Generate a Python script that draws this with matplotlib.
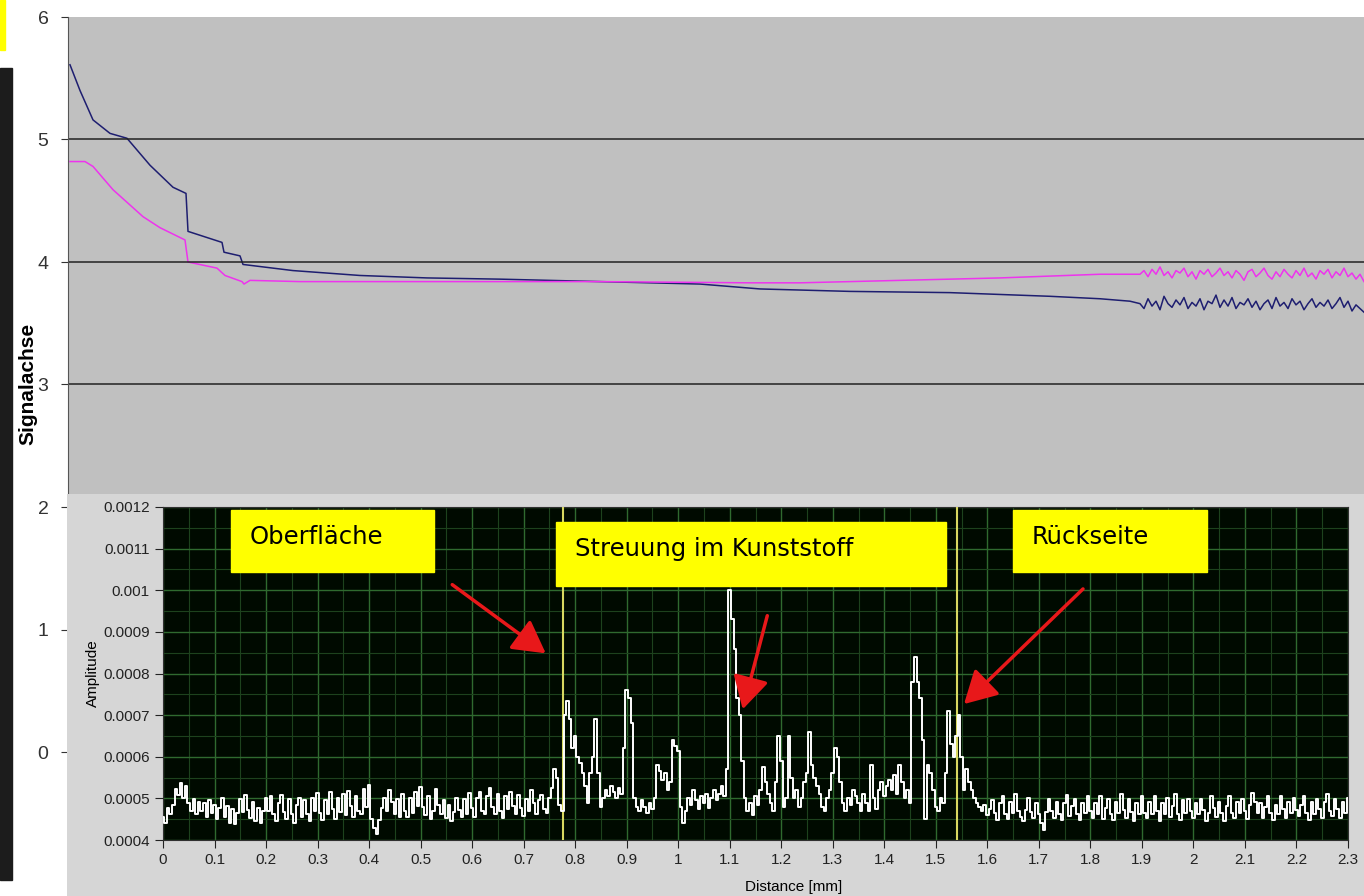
import numpy as np
import matplotlib.pyplot as plt
from matplotlib.patches import Rectangle, FancyArrowPatch
from matplotlib.ticker import MultipleLocator, FuncFormatter

# ---- obere Kurven (Excel-Diagramm) ----
navy_x = [2, 12, 25, 42, 59, 82, 105, 118, 120, 154, 156, 172, 175, 225, 292, 359,
          432, 532, 632, 692, 782, 882, 982, 1032, 1062]
navy_y = [5.61, 5.40, 5.16, 5.05, 5.01, 4.79, 4.61, 4.56, 4.25, 4.16, 4.08, 4.05, 3.98,
          3.93, 3.89, 3.87, 3.86, 3.84, 3.82, 3.78, 3.76, 3.75, 3.72, 3.70, 3.68]
navy_noise = [3.66, 3.62, 3.70, 3.64, 3.68, 3.61, 3.72, 3.66, 3.63, 3.69, 3.65, 3.71,
              3.62, 3.67, 3.64, 3.70, 3.61, 3.68, 3.66, 3.73, 3.63, 3.69, 3.64, 3.71,
              3.62, 3.67, 3.65, 3.70, 3.63, 3.68, 3.61, 3.66, 3.69, 3.62, 3.71, 3.64,
              3.67, 3.62, 3.70, 3.65, 3.68, 3.61, 3.66, 3.70, 3.63, 3.67, 3.64, 3.69,
              3.62, 3.66, 3.71, 3.63, 3.68, 3.60, 3.65, 3.62, 3.59]

magenta_x = [2, 17, 25, 45, 75, 92, 117, 120, 149, 157, 174, 176, 182, 232, 332, 532,
             682, 732, 832, 932, 1032, 1062]
magenta_y = [4.82, 4.82, 4.78, 4.59, 4.37, 4.28, 4.18, 4.00, 3.95, 3.89, 3.84, 3.82,
             3.85, 3.84, 3.84, 3.84, 3.83, 3.83, 3.85, 3.87, 3.90, 3.90]
magenta_noise = [3.90, 3.93, 3.88, 3.94, 3.90, 3.96, 3.89, 3.92, 3.87, 3.93, 3.91, 3.95,
                 3.88, 3.92, 3.86, 3.93, 3.90, 3.94, 3.88, 3.91, 3.95, 3.89, 3.92, 3.87,
                 3.93, 3.90, 3.85, 3.92, 3.94, 3.88, 3.91, 3.95, 3.89, 3.86, 3.92, 3.88,
                 3.94, 3.90, 3.87, 3.93, 3.89, 3.95, 3.88, 3.91, 3.86, 3.93, 3.90, 3.94,
                 3.87, 3.92, 3.89, 3.95, 3.88, 3.91, 3.86, 3.90, 3.84]

# ---- Ultraschall-A-Bild (LabVIEW), Amplitude in 1e-6, Schritt 0.005 mm ----
amp_e6 = [
    455, 440, 478, 462, 485, 522, 508, 538, 500, 530, 488, 470, 498, 462, 492, 470, 488, 455, 495, 465, 485,
    450, 478, 500, 455, 482, 440, 475, 438, 465, 498, 468, 508, 472, 452, 492, 445, 478, 440, 470, 500,
    470, 505, 462, 445, 490, 508, 468, 450, 498, 462, 442, 485, 502, 455, 495, 462, 446, 500, 470, 512,
    465, 448, 495, 462, 515, 475, 450, 502, 468, 510, 460, 518, 482, 455, 505, 470, 462, 522, 480, 532,
    450, 428, 415, 448, 478, 500, 470, 520, 492, 462, 498, 455, 510, 470, 455, 500, 465, 515, 482, 528,
    480, 460, 505, 450, 470, 522, 485, 462, 495, 452, 485, 445, 468, 502, 472, 455, 498, 462, 512, 478,
    455, 500, 515, 470, 462, 505, 525, 480, 462, 510, 470, 452, 505, 475, 515, 482, 462, 508, 478, 458,
    498, 470, 520, 488, 462, 495, 508, 475, 465, 500, 525, 570, 548, 485, 470,
    700, 735, 690, 620, 650, 600,
    585, 560, 530, 490, 560, 600, 690, 560, 480, 500,
    520, 505, 530, 515, 500, 525, 510, 620, 760, 740,
    680, 500, 480, 470, 495, 480, 465, 490, 475, 500,
    580, 565, 545, 560, 520, 540, 640, 625, 615, 480,
    440, 470, 500, 485, 520, 495, 475, 505, 490, 510,
    478, 500, 520, 495, 510, 530, 505, 570, 1000, 930,
    860, 740, 700, 590, 500, 470, 490, 460, 505, 485,
    520, 575, 540, 510, 490, 470, 540, 650, 590, 480,
    500, 650, 550, 500, 520, 480, 500, 540, 560, 660,
    580, 550, 530, 510, 480, 470, 500, 520, 560, 620,
    600, 540, 490, 470, 500, 485, 520, 505, 490, 470,
    510, 490, 470, 580, 500, 475, 520, 540, 505, 530,
    545, 520, 555, 510, 580, 540, 500, 520, 490, 780,
    840, 780, 740, 640, 450, 580, 560, 520, 480, 470,
    500, 490, 560, 710, 630, 600, 650, 700, 600, 520,
    570, 540, 520, 500, 490, 480, 470, 485, 460, 475,
    495, 465, 448, 488, 505, 462, 450, 492, 465, 510, 470, 455, 445, 472, 500, 468, 452, 488, 462, 440,
    425, 468, 498, 470, 452, 492, 462, 448, 488, 508, 458, 482, 498, 462, 448, 490, 465, 505, 470, 452,
    488, 462, 505, 450, 478, 498, 462, 448, 492, 465, 510, 472, 452, 498, 468, 445, 490, 462, 505, 465,
    452, 492, 462, 505, 470, 445, 488, 462, 500, 455, 482, 510, 462, 448, 495, 465, 498, 470, 452, 488,
    462, 498, 472, 445, 465, 505, 478, 455, 492, 465, 445, 482, 505, 465, 452, 492, 465, 498, 470, 450,
    485, 512, 492, 465, 490, 452, 480, 505, 465, 448, 485, 462, 505, 475, 452, 492, 465, 500, 472, 458,
    485, 505, 465, 448, 492, 462, 498, 475, 452, 492, 510, 470, 458, 498, 475, 452, 492, 465, 500, 482,
]
cursors = [0.776, 1.542]
labels = ["Oberfläche", "Streuung im Kunststoff", "Rückseite"]

W, H = 1364, 896


def fx(x):
    return x / W


def fy(y):
    return 1 - y / H


plt.rcParams['font.family'] = ['Liberation Sans', 'DejaVu Sans']
fig = plt.figure(figsize=(W / 100, H / 100), dpi=100)
fig.patch.set_facecolor('white')

# Hintergrund links
fig.patches.append(Rectangle((0, fy(880)), fx(12), fy(68) - fy(880), transform=fig.transFigure,
                             color='#1c1c1c', zorder=0))
fig.patches.append(Rectangle((0, fy(50)), fx(5), fy(0) - fy(50), transform=fig.transFigure,
                             color='#ffff00', zorder=0))

# ---- oberes Diagramm ----
ax = fig.add_axes([fx(68), 0, 1 - fx(68), fy(17)])
ax.set_facecolor('#c0c0c0')
nx = np.linspace(1072, 1296, len(navy_noise))
ax.plot(np.concatenate([navy_x, nx]), np.concatenate([navy_y, navy_noise]), color='#1e1e70', lw=1.1)
mx = np.linspace(1072, 1296, len(magenta_noise))
ax.plot(np.concatenate([magenta_x, mx]), np.concatenate([magenta_y, magenta_noise]), color='#ee33ee', lw=1.1)
ax.set_xlim(0, 1296)
ax.set_ylim(6 - 879 / 122.5, 6)
ax.set_yticks(range(0, 7))
for v in range(0, 6):
    ax.axhline(v, color='#222222', lw=1.1)
ax.set_xticks([])
for s in ['top', 'right', 'bottom']:
    ax.spines[s].set_visible(False)
ax.spines['left'].set_color('#555555')
ax.tick_params(axis='y', direction='out', length=5, pad=9, labelsize=14, colors='#333333')
ax.set_ylabel('Signalachse', fontsize=15, fontweight='bold')
ax.yaxis.set_label_coords(-0.0235, 0.582)

# ---- LabVIEW-Fenster ----
panel = fig.add_axes([fx(67), 0, 1 - fx(67), fy(494)])
panel.set_facecolor('#d6d6d6')
panel.set_xticks([])
panel.set_yticks([])
for s in panel.spines.values():
    s.set_visible(False)

ax2 = fig.add_axes([fx(163), fy(840), fx(1348) - fx(163), fy(507) - fy(840)])
ax2.set_facecolor('#000a00')
dist = np.arange(len(amp_e6)) * 0.005
amp = np.array(amp_e6) * 1e-6
ax2.set_xlim(0, 2.3)
ax2.set_ylim(0.0004, 0.0012)
ax2.xaxis.set_major_locator(MultipleLocator(0.1))
ax2.xaxis.set_minor_locator(MultipleLocator(0.05))
ax2.yaxis.set_major_locator(MultipleLocator(0.0001))
ax2.yaxis.set_minor_locator(MultipleLocator(0.00005))
ax2.xaxis.set_major_formatter(FuncFormatter(lambda v, p: f'{v:.1f}'.rstrip('0').rstrip('.')))
ax2.yaxis.set_major_formatter(FuncFormatter(lambda v, p: f'{v:.4f}'.rstrip('0')))
ax2.grid(which='major', color='#2f6a2f', lw=1.0)
ax2.grid(which='minor', color='#1d421d', lw=0.8)
ax2.set_axisbelow(True)
ax2.tick_params(which='major', direction='out', length=6, labelsize=11, colors='#222222')
ax2.tick_params(which='minor', length=0)
for s in ax2.spines.values():
    s.set_color('#303030')
for c in cursors:
    ax2.axvline(c, color='#d8d860', lw=1.5, zorder=3)
ax2.step(dist, amp, where='mid', color='white', lw=1.4, zorder=4)
ax2.set_ylabel('Amplitude', fontsize=11)
ax2.yaxis.set_label_coords(-0.053, 0.5)
ax2.set_xlabel('Distance [mm]', fontsize=11)
ax2.xaxis.set_label_coords((794 - 163) / 1185, -0.12)

# Beschriftungen
boxes = [(231, 510, 434, 572), (556, 522, 946, 586), (1013, 510, 1207, 572)]
for (x0, y0, x1, y1), t in zip(boxes, labels):
    fig.patches.append(Rectangle((fx(x0), fy(y1)), fx(x1) - fx(x0), fy(y0) - fy(y1),
                                 transform=fig.transFigure, color='#ffff00', zorder=5))
    fig.text(fx(x0 + 19), fy(y0 + 27), t, fontsize=17.5, family='DejaVu Sans',
             va='center', ha='left', zorder=6)

arrows = [((450, 583), (548, 655)), ((768, 613), (742, 712)), ((1085, 587), (962, 706))]
for (xa, ya), (xb, yb) in arrows:
    fig.add_artist(FancyArrowPatch(
        (fx(xa), fy(ya)), (fx(xb), fy(yb)), transform=fig.transFigure,
        arrowstyle='-|>,head_length=0.9,head_width=0.5', mutation_scale=22,
        color='#e8181a', lw=2.5, zorder=7))

fig.savefig('out.png', dpi=100)
